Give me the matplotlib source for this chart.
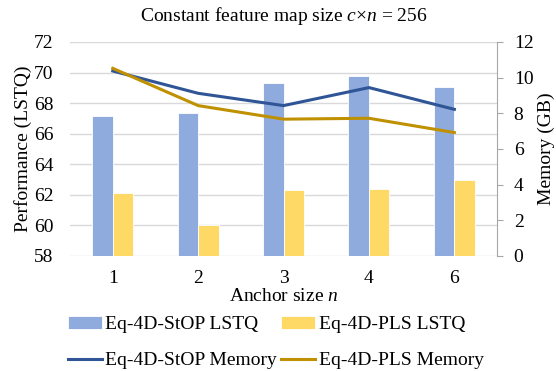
import numpy as np
import matplotlib
matplotlib.use("Agg")
from matplotlib import pyplot as plt

plt.rcParams['font.family'] = ['Liberation Serif', 'DejaVu Serif']
plt.rcParams['mathtext.fontset'] = 'custom'
plt.rcParams['mathtext.rm'] = 'Liberation Serif'
plt.rcParams['mathtext.it'] = 'Liberation Serif:italic'

# data
anchor = ['1', '2', '3', '4', '6']
stop_lstq = [67.15, 67.33, 69.29, 69.80, 69.03]
pls_lstq = [62.14, 60.03, 62.32, 62.38, 62.97]
stop_mem = [10.37, 9.12, 8.43, 9.44, 8.22]
pls_mem = [10.52, 8.43, 7.67, 7.72, 6.92]

fs = 14
x = np.arange(len(anchor))
w = 0.24

fig = plt.figure(figsize=(5.56, 3.71), dpi=100)
ax = fig.add_axes([0.126, 0.31, 0.768, 0.577])
ax2 = ax.twinx()

# bars on left axis
b1 = ax.bar(x - w/2, np.array(stop_lstq) - 58, w, bottom=58, color='#8FAADC',
            edgecolor='white', linewidth=0.6, zorder=3)
b2 = ax.bar(x + w/2, np.array(pls_lstq) - 58, w, bottom=58, color='#FFD966',
            edgecolor='white', linewidth=0.6, zorder=3)
ax.set_ylim(58, 72)
ax.set_yticks(range(58, 73, 2))
ax.set_xlim(-0.5, len(anchor) - 0.5)
ax.set_xticks(x)
ax.set_xticklabels(anchor)
ax.grid(axis='y', color='#D9D9D9', linewidth=1, zorder=0)
ax.set_axisbelow(True)
for s in ['top', 'left', 'right', 'bottom']:
    ax.spines[s].set_visible(False)
ax.tick_params(axis='y', length=0, labelsize=fs, pad=12)
ax.tick_params(axis='x', length=0, labelsize=fs, pad=10)
ax.set_ylabel('Performance (LSTQ)', fontsize=fs, labelpad=1)
ax.set_xlabel('Anchor size $n$', fontsize=fs, labelpad=1)

# lines on right axis
l1, = ax2.plot(x, stop_mem, color='#2F5597', linewidth=2.2, zorder=4)
l2, = ax2.plot(x, pls_mem, color='#BF9000', linewidth=2.2, zorder=4)
ax2.set_ylim(0, 12)
ax2.set_yticks(range(0, 13, 2))
for s in ['top', 'left', 'bottom']:
    ax2.spines[s].set_visible(False)
ax2.spines['right'].set_color('#A6A6A6')
ax2.tick_params(axis='y', length=4, color='#A6A6A6', labelsize=fs, pad=8)
ax2.set_ylabel('Memory (GB)', fontsize=fs, labelpad=3)

ax.set_title('Constant feature map size $c$×$n$ = 256', fontsize=fs, pad=15)

# legend filled column-first, so order gives rows: LSTQ pair, Memory pair
fig.legend([b1, l1, b2, l2],
           ['Eq-4D-StOP LSTQ', 'Eq-4D-StOP Memory', 'Eq-4D-PLS LSTQ', 'Eq-4D-PLS Memory'],
           loc='lower left', bbox_to_anchor=(0.09, -0.043), ncol=2, frameon=False,
           fontsize=fs, handlelength=1.75, handleheight=0.6, handletextpad=0.2,
           columnspacing=0.2, labelspacing=0.98)

fig.savefig('out.png', dpi=100)
